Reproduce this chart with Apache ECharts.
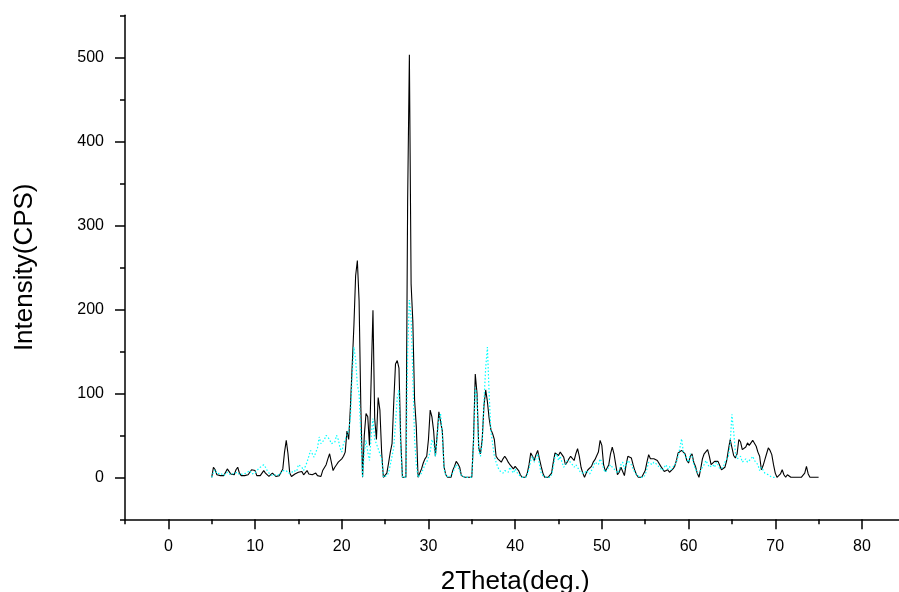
<!DOCTYPE html>
<html><head><meta charset="utf-8">
<script src="https://cdn.jsdelivr.net/npm/echarts@6/dist/echarts.min.js"></script>
<style>html,body{margin:0;padding:0;background:#fff}#c{width:899px;height:592px}</style>
</head><body><div id="c"></div>
<script>
// 2Theta grid: starts at 5.0 deg, step 0.2 deg
const xStart = 5.0;
const xStep = 0.2;
// black (solid) pattern, 5.0 .. 75.0
const sampleBlack = [
  0, 12, 9, 3, 5, 2, 1, 2, 6, 10,
  7, 4, 2, 3, 9, 12, 5, 2, 3, 2,
  1, 3, 6, 9, 10, 8, 2, 1, 2, 5,
  8, 5, 3, 1, 2, 5, 3, 1, 1, 2,
  3, 10, 30, 44, 28, 5, 1, 2, 4, 3,
  6, 4, 7, 3, 5, 8, 4, 6, 3, 5,
  5, 2, 4, 1, 8, 10, 15, 22, 28, 18,
  8, 12, 15, 18, 20, 22, 25, 30, 55, 45,
  84, 132, 180, 240, 258, 210, 84, 0, 50, 76,
  72, 38, 120, 199, 70, 45, 95, 80, 30, 0,
  0, 5, 17, 30, 40, 90, 135, 139, 130, 45,
  0, 0, 0, 330, 503, 230, 185, 92, 60, 0,
  0, 10, 17, 22, 25, 45, 80, 72, 55, 25,
  50, 78, 80, 55, 12, 3, 0, 0, 0, 8,
  13, 19, 16, 12, 2, 0, 0, 0, 0, 0,
  0, 45, 123, 100, 35, 28, 45, 85, 104, 90,
  70, 57, 52, 45, 25, 22, 20, 18, 22, 25,
  22, 18, 15, 13, 10, 13, 12, 8, 3, 0,
  0, 0, 5, 15, 29, 25, 20, 27, 32, 22,
  13, 5, 0, 0, 0, 0, 5, 18, 29, 30,
  26, 30, 28, 24, 15, 18, 22, 25, 26, 20,
  28, 34, 25, 12, 5, 0, 5, 9, 11, 13,
  18, 21, 19, 30, 44, 38, 15, 7, 5, 15,
  28, 36, 28, 15, 3, 6, 12, 10, 2, 15,
  25, 24, 23, 15, 8, 3, 0, 0, 0, 0,
  8, 18, 27, 22, 20, 22, 21, 20, 18, 13,
  10, 7, 8, 9, 6, 7, 10, 13, 20, 29,
  30, 32, 30, 28, 20, 17, 25, 28, 18, 13,
  5, 0, 10, 22, 28, 30, 33, 25, 15, 17,
  19, 18, 19, 14, 9, 7, 12, 20, 33, 45,
  45, 26, 23, 28, 45, 42, 33, 35, 36, 41,
  38, 37, 44, 42, 37, 30, 25, 9, 14, 21,
  28, 35, 32, 27, 15, 5, 0, 0, 4, 9,
  3, 0, 3, 5, 0, 0, 0, 0, 0, 0,
  0, 0, 5, 13, 4, 0, 0, 0, 0, 0,
  0
];
// cyan (dotted) pattern, 5.0 .. 70.0
const sampleCyan = [
  0, 6, 9, 4, 2, 5, 3, 2, 4, 6,
  8, 3, 2, 5, 4, 6, 3, 2, 4, 3,
  5, 7, 8, 4, 3, 5, 8, 10, 12, 14,
  15, 12, 8, 5, 3, 2, 4, 3, 2, 3,
  5, 8, 10, 8, 5, 3, 5, 8, 10, 7,
  15, 17, 12, 8, 10, 18, 25, 32, 28, 24,
  24, 35, 48, 40, 38, 45, 50, 52, 45, 40,
  38, 42, 50, 45, 35, 30, 40, 38, 50, 56,
  70, 120, 155, 140, 110, 100, 50, 0, 30, 44,
  30, 20, 50, 70, 45, 40, 40, 28, 22, 0,
  0, 2, 5, 15, 25, 35, 65, 95, 104, 35,
  0, 0, 0, 150, 211, 190, 120, 45, 15, 0,
  0, 5, 10, 15, 18, 20, 30, 45, 40, 25,
  45, 70, 76, 50, 10, 2, 0, 0, 0, 5,
  10, 15, 12, 8, 2, 0, 0, 0, 0, 0,
  0, 40, 107, 95, 30, 25, 40, 90, 130, 155,
  100, 55, 40, 25, 18, 12, 8, 10, 5, 8,
  10, 6, 12, 8, 5, 10, 6, 3, 1, 0,
  0, 0, 3, 10, 20, 25, 18, 22, 28, 15,
  5, 2, 0, 0, 0, 0, 3, 12, 25, 28,
  20, 25, 18, 12, 15, 20, 22, 18, 15, 12,
  15, 12, 8, 5, 3, 5, 8, 6, 4, 8,
  12, 18, 20, 15, 22, 18, 10, 6, 8, 12,
  15, 12, 10, 8, 5, 8, 15, 18, 10, 12,
  20, 18, 15, 10, 6, 3, 2, 0, 0, 0,
  3, 10, 18, 20, 15, 18, 20, 15, 12, 10,
  8, 12, 15, 10, 13, 9, 12, 15, 18, 25,
  35, 46, 30, 28, 22, 18, 28, 25, 15, 10,
  5, 3, 8, 12, 15, 20, 18, 12, 10, 15,
  12, 18, 15, 10, 8, 12, 18, 22, 25, 40,
  75, 55, 30, 22, 20, 25, 18, 20, 22, 18,
  20, 22, 25, 20, 18, 15, 8, 12, 10, 5,
  5, 3, 2, 0, 0, 0
];
const xMajorTicks = [0, 10, 20, 30, 40, 50, 60, 70, 80];
const xMinorTicks = [-5, 5, 15, 25, 35, 45, 55, 65, 75, 85];
const yMajorTicks = [0, 100, 200, 300, 400, 500];
const yMinorTicks = [-50, 50, 150, 250, 350, 450, 550];
const xTitle = '2Theta(deg.)';
const yTitle = 'Intensity(CPS)';

function toPairs(arr) {
  return arr.map((v, i) => [Math.round((xStart + i * xStep) * 10) / 10, v]);
}
const FONT = 'Arial, "Liberation Sans", sans-serif';
const axisLineStyle = { color: '#000', width: 1.5 };

const chart = echarts.init(document.getElementById('c'), null, { renderer: 'canvas' });
chart.setOption({
  animation: false,
  backgroundColor: '#fff',
  grid: { left: 125, top: 15.3, width: 780.3, height: 504, containLabel: false, outerBoundsMode: 'none' },
  xAxis: [
    {
      type: 'value', min: -5, max: 85, position: 'bottom',
      axisLine: { show: true, onZero: false, lineStyle: axisLineStyle },
      axisTick: { show: true, customValues: xMajorTicks, length: 10, inside: false, lineStyle: axisLineStyle },
      axisLabel: { customValues: xMajorTicks, fontSize: 16, color: '#000', margin: 19, fontFamily: FONT },
      splitLine: { show: false },
      name: xTitle, nameLocation: 'middle', nameGap: 50,
      nameTextStyle: { fontSize: 26, color: '#000', fontFamily: FONT }
    },
    {
      type: 'value', min: -5, max: 85, position: 'bottom',
      axisLine: { show: false, onZero: false },
      axisTick: { show: true, customValues: xMinorTicks, length: 5, inside: false, lineStyle: axisLineStyle },
      axisLabel: { show: false },
      splitLine: { show: false }
    }
  ],
  yAxis: [
    {
      type: 'value', min: -50, max: 550, position: 'left',
      axisLine: { show: true, onZero: false, lineStyle: axisLineStyle },
      axisTick: { show: true, customValues: yMajorTicks, length: 10, inside: false, lineStyle: axisLineStyle },
      axisLabel: { customValues: yMajorTicks, fontSize: 16, color: '#000', margin: 21, fontFamily: FONT },
      splitLine: { show: false },
      name: yTitle, nameLocation: 'middle', nameGap: 87,
      nameTextStyle: { fontSize: 26, color: '#000', fontFamily: FONT }
    },
    {
      type: 'value', min: -50, max: 550, position: 'left',
      axisLine: { show: false, onZero: false },
      axisTick: { show: true, customValues: yMinorTicks, length: 5, inside: false, lineStyle: axisLineStyle },
      axisLabel: { show: false },
      splitLine: { show: false }
    }
  ],
  series: [
    {
      type: 'line', xAxisIndex: 0, yAxisIndex: 0, data: toPairs(sampleBlack),
      showSymbol: false, symbol: 'none', lineStyle: { color: '#000', width: 1.1 }, z: 2
    },
    {
      type: 'line', xAxisIndex: 0, yAxisIndex: 0, data: toPairs(sampleCyan),
      showSymbol: false, symbol: 'none', lineStyle: { color: '#00ffff', width: 1.2, type: [1.5, 2] }, z: 3
    }
  ]
});
</script>
</body></html>
